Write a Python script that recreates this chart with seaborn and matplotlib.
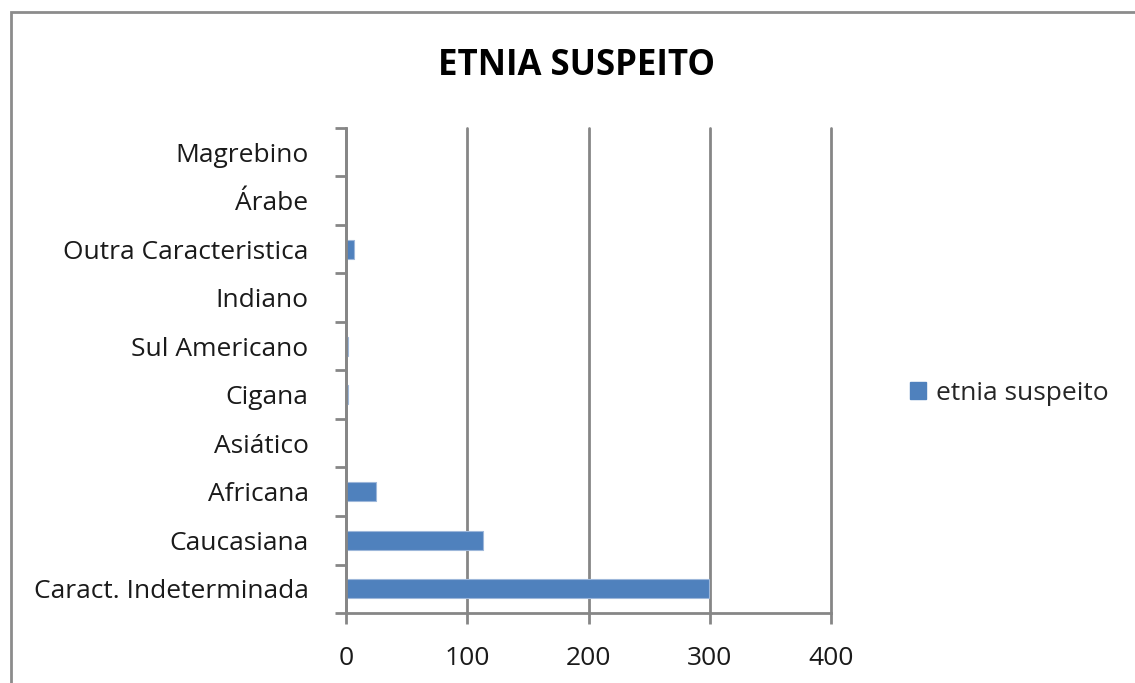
import matplotlib
matplotlib.use("Agg")
import matplotlib.pyplot as plt
import matplotlib.patches as mpatches
import numpy as np
import pandas as pd
import seaborn as sns

# data (top to bottom)
categories = ["Magrebino", "Árabe", "Outra Caracteristica", "Indiano",
              "Sul Americano", "Cigana", "Asiático", "Africana",
              "Caucasiana", "Caract. Indeterminada"]
values = [0, 0, 7, 0, 2, 2, 0, 25, 113, 299]
series_name = "etnia suspeito"

df = pd.DataFrame({"categoria": categories, "valor": values})

sns.set_style("white")
plt.rcParams["font.family"] = ["Open Sans", "DejaVu Sans"]

bar_color = "#4F81BD"
grid_color = "#868686"

fig = plt.figure(figsize=(11.35, 6.83), dpi=100)
ax = fig.add_axes([346 / 1135, 1 - 613 / 683, (831 - 346) / 1135, (613 - 128) / 683])

sns.barplot(data=df, y="categoria", x="valor", color=bar_color,
            width=0.4, ax=ax, saturation=1, order=categories,
            edgecolor="#9DB7DA", linewidth=0.8)

ax.set_xlim(0, 400)
ax.set_ylim(len(categories) - 0.5, -0.5)
ax.set_xticks([0, 100, 200, 300, 400])
ax.set_xlabel("")
ax.set_ylabel("")

# gridlines
ax.xaxis.grid(True, color=grid_color, linewidth=2)
for gl in ax.get_xgridlines():
    gl.set_clip_on(False)
ax.set_axisbelow(True)

for s in ["top", "right"]:
    ax.spines[s].set_visible(False)
for s in ["left", "bottom"]:
    ax.spines[s].set_color(grid_color)
    ax.spines[s].set_linewidth(2)

# y ticks between categories, labels centred
ax.set_yticks(np.arange(-0.5, len(categories), 1), minor=True)
ax.tick_params(axis="y", which="both", left=True)
ax.tick_params(axis="x", which="major", bottom=True)
ax.tick_params(axis="y", which="major", length=0, pad=27, labelsize=19)
ax.tick_params(axis="y", which="minor", length=8, width=2, color=grid_color, direction="out")
ax.tick_params(axis="x", which="major", length=8, width=2, color=grid_color,
               direction="out", pad=16, labelsize=19)
for lab in ax.get_yticklabels() + ax.get_xticklabels():
    lab.set_color("#1a1a1a")

fig.text(576 / 1135, 1 - 66 / 683, "ETNIA SUSPEITO", ha="center", va="center",
         fontsize=25, fontweight="bold", color="black")

handle = mpatches.Patch(color=bar_color, label=series_name)
fig.legend(handles=[handle], loc="center left", bbox_to_anchor=(886 / 1135, 1 - 393 / 683),
           frameon=False, fontsize=19, handlelength=0.6, handleheight=0.6,
           handletextpad=0.4)

# outer chart border
fig.add_artist(mpatches.Rectangle((11 / 1135, -0.1), 1.2, 1 - 12 / 683 + 0.1,
                                  transform=fig.transFigure, fill=False,
                                  edgecolor="#8c8c8c", linewidth=2))

fig.savefig("out.png", dpi=100)
